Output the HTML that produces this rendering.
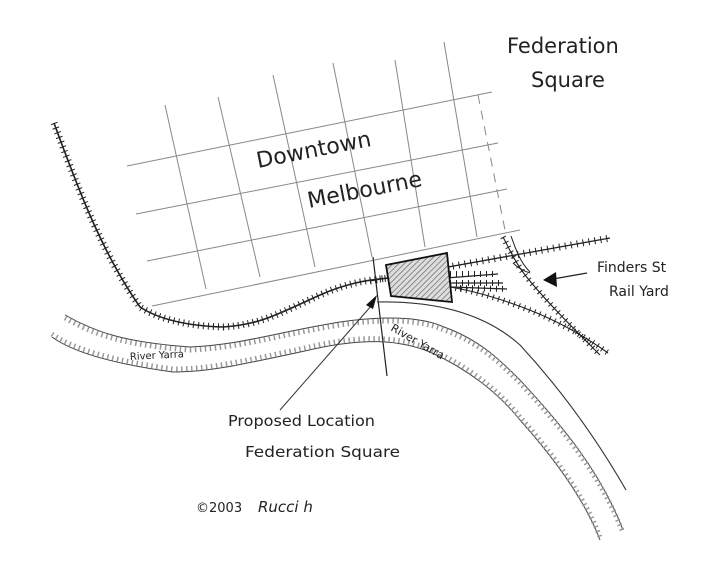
<!DOCTYPE html>
<html><head><meta charset="utf-8"><style>
html,body{margin:0;padding:0;background:#fff;}
svg{display:block}
text{font-family:"DejaVu Sans","Liberation Sans",sans-serif;fill:#222;}
</style></head><body>
<svg width="725" height="585" viewBox="0 0 725 585" xmlns="http://www.w3.org/2000/svg">
<defs>
<pattern id="hatch" width="4" height="4" patternUnits="userSpaceOnUse" patternTransform="rotate(45)">
<line x1="0" y1="0" x2="0" y2="4" stroke="#555" stroke-width="1.2"/>
</pattern>
</defs>
<g stroke="#888" stroke-width="1" fill="none">
<line x1="127" y1="166" x2="492" y2="92"/>
<line x1="136" y1="214" x2="498" y2="143"/>
<line x1="147" y1="261" x2="507" y2="189"/>
<line x1="152" y1="306" x2="520" y2="230"/>
<line x1="165" y1="105" x2="206" y2="289"/>
<line x1="218" y1="97" x2="260" y2="277"/>
<line x1="273" y1="75" x2="315" y2="267"/>
<line x1="333" y1="63" x2="372" y2="257"/>
<line x1="395" y1="60" x2="425" y2="247"/>
<line x1="444" y1="42" x2="477" y2="237"/>
<line x1="478" y1="95" x2="505" y2="230" stroke-dasharray="9 7"/>
</g>
<line x1="373" y1="257" x2="387" y2="376" stroke="#222" stroke-width="1.2"/>
<path d="M377 302 Q470 300 520 345 Q580 410 626 490" stroke="#333" stroke-width="1.1" fill="none"/>
<g fill="none">
<path d="M65 315 C95 332 123 342 190 347 C240 345 273 333 340 322 C380 316 420 316 444 327 C480 340 500 360 520 380 C560 423 600 470 623 530" stroke="#444" stroke-width="1"/>
<path d="M65 315 C95 332 123 342 190 347 C240 345 273 333 340 322 C380 316 420 316 444 327 C480 340 500 360 520 380 C560 423 600 470 623 530" stroke="#999" stroke-width="5" stroke-dasharray="1.5 3.5" transform="translate(0,3)"/>
<path d="M52 337 C70 350 107 363 173 372 C210 372 240 365 323 347 C360 340 395 338 430 352 C470 370 500 395 520 420 C553 457 585 500 600 540" stroke="#444" stroke-width="1"/>
<path d="M52 337 C70 350 107 363 173 372 C210 372 240 365 323 347 C360 340 395 338 430 352 C470 370 500 395 520 420 C553 457 585 500 600 540" stroke="#999" stroke-width="5" stroke-dasharray="1.5 3.5" transform="translate(0,-3)"/>
</g>
<g fill="none" stroke="#222">
<path d="M54 123 C75 180 100 250 140 307 C160 320 190 326 223 327 C260 325 280 313 320 295 C345 284 365 280 390 278 L449 277" stroke-width="1.6"/>
<path d="M54 123 C75 180 100 250 140 307 C160 320 190 326 223 327 C260 325 280 313 320 295 C345 284 365 280 390 278 L449 277" stroke-width="7" stroke-dasharray="1 4"/>
<path d="M370 281 L610 238" stroke-width="1.3"/>
<path d="M370 281 L610 238" stroke-width="7" stroke-dasharray="1 5"/>
<path d="M420 280 L498 274 M440 283 L503 283 M450 287 L507 289" stroke-width="1.2"/>
<path d="M450 274 L498 274 M450 283 L503 283 M460 288 L507 289" stroke-width="6" stroke-dasharray="1 5"/>
<path d="M450 287 C480 292 510 302 537 313 C565 325 590 340 608 353" stroke-width="1.1"/>
<path d="M450 287 C480 292 510 302 537 313 C565 325 590 340 608 353" stroke-width="6" stroke-dasharray="1 4.5"/>
<path d="M503 237 C510 250 515 262 525 275 C545 300 570 325 600 355" stroke-width="1.1"/>
<path d="M503 237 C510 250 515 262 525 275 C545 300 570 325 600 355" stroke-width="6" stroke-dasharray="1 4.5"/>
<path d="M511 236 C516 250 520 262 530 272" stroke-width="1"/>
<path d="M513 263 Q520 270 530 273" stroke-width="1"/>
</g>
<path d="M386 265 L447 253 L452 302 L391 296 Z" fill="#ddd" stroke="none"/>
<path d="M386 265 L447 253 L452 302 L391 296 Z" fill="url(#hatch)" stroke="#111" stroke-width="1.8"/>
<line x1="280" y1="410" x2="372" y2="305" stroke="#333" stroke-width="1"/>
<polygon points="377,295 366,305 373,309" fill="#111"/>
<line x1="587" y1="273" x2="553" y2="279" stroke="#222" stroke-width="1.3"/>
<polygon points="543,280 556,272 557,287" fill="#111"/>
<text x="507" y="53" font-size="21">Federation</text>
<text x="531" y="87" font-size="21">Square</text>
<text x="258" y="168" font-size="22" transform="rotate(-11 258 168)">Downtown</text>
<text x="309" y="208" font-size="22" transform="rotate(-11 309 208)">Melbourne</text>
<text x="597" y="272" font-size="14">Finders St</text>
<text x="609" y="296" font-size="14">Rail Yard</text>
<text x="130" y="360" font-size="10" transform="rotate(-3 130 360)">River Yarra</text>
<text x="390" y="330" font-size="11" transform="rotate(30 390 330)">River Yarra</text>
<text x="228" y="426" font-size="15" textLength="147" lengthAdjust="spacingAndGlyphs">Proposed Location</text>
<text x="245" y="457" font-size="15" textLength="155" lengthAdjust="spacingAndGlyphs">Federation Square</text>
<text x="196" y="512" font-size="13">©2003</text>
<text x="258" y="512" font-size="15" font-style="italic">Rucci h</text>
</svg>
</body></html>
